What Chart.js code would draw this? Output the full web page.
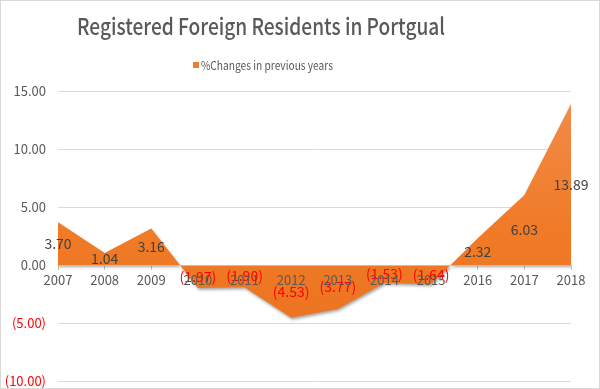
<!DOCTYPE html>
<html>
<head>
<meta charset="utf-8">
<script src="https://cdn.jsdelivr.net/npm/chart.js@4/dist/chart.umd.min.js"></script>
<style>
  html, body { margin: 0; padding: 0; background: #fff; overflow: hidden; }
  #outer { width: 600px; height: 389px; overflow: hidden; position: relative; }
  /* canvas is a bit taller than the window: Chart.js keeps room under the
     y labels that the original does not have */
  #wrap { width: 600px; height: 401px; position: relative; }
</style>
</head>
<body>
<div id="outer"><div id="wrap"><canvas id="chart"></canvas></div></div>
<script>
// data
const years = ['2007','2008','2009','2010','2011','2012','2013','2014','2015','2016','2017','2018'];
const changes = [3.70, 1.04, 3.16, -1.97, -1.90, -4.53, -3.77, -1.53, -1.64, 2.32, 6.03, 13.89];
const seriesName = '%Changes in previous years';
const chartTitle = 'Registered Foreign Residents in Portgual';

const FONT = "'Noto Sans CJK SC', 'Noto Sans', sans-serif";
const GREY = '#595959';
const RED = '#FF0000';
const ORANGE = '#ED7D31';

function fmt(v) {
    return v < 0 ? `(${Math.abs(v).toFixed(2)})` : v.toFixed(2);
}

// squeeze text into a given width (the original font is narrow)
function fitText(c, text, x, y, width) {
    const w = c.measureText(text).width;
    c.save();
    c.translate(x, y);
    c.scale(width / w, 1);
    c.fillText(text, 0, 0);
    c.restore();
}

// white background, border, title and legend (title block is off-centre in the original)
const frame = {
    id: 'frame',
    beforeDraw(chart) {
        const c = chart.ctx;
        c.save();
        c.fillStyle = '#fff';
        c.fillRect(0, 0, chart.width, chart.height);
        c.strokeStyle = '#D9D9D9';
        c.lineWidth = 1;
        c.strokeRect(0.5, 0.5, chart.width - 1, 388);

        c.fillStyle = GREY;
        c.textAlign = 'left';
        c.textBaseline = 'alphabetic';
        c.font = `500 23px ${FONT}`;
        fitText(c, chartTitle, 77, 35, 368);

        c.font = `12px ${FONT}`;
        c.textBaseline = 'middle';
        fitText(c, seriesName, 201, 65, 132);
        c.fillStyle = ORANGE;
        c.fillRect(193, 62, 6, 6);
        c.restore();
    }
};

// soft shadow under the area
const shadow = {
    id: 'shadow',
    beforeDatasetsDraw(chart) {
        const c = chart.ctx;
        c.save();
        c.shadowColor = 'rgba(0,0,0,0.35)';
        c.shadowBlur = 3;
        c.shadowOffsetX = 1;
        c.shadowOffsetY = 2;
    },
    afterDatasetsDraw(chart) {
        chart.ctx.restore();
    }
};

// values drawn in the middle of the area, like Excel's "center" labels
const valueLabels = {
    id: 'valueLabels',
    afterDatasetsDraw(chart) {
        const c = chart.ctx;
        const meta = chart.getDatasetMeta(0);
        const ys = chart.scales.y;
        c.save();
        c.font = `14px ${FONT}`;
        c.textAlign = 'center';
        c.textBaseline = 'middle';
        changes.forEach((v, i) => {
            const x = meta.data[i].x;
            const y = ys.getPixelForValue(v / 2);
            c.fillStyle = v < 0 ? RED : '#404040';
            c.fillText(fmt(v), x, y);
        });
        c.restore();
    }
};

const ctx = document.getElementById('chart').getContext('2d');
const grad = ctx.createLinearGradient(0, 90, 0, 380);
grad.addColorStop(0, '#F28C4C');
grad.addColorStop(0.5, '#F07A25');
grad.addColorStop(1, '#EA7020');

new Chart(ctx, {
    type: 'line',
    data: {
        labels: years,
        datasets: [{
            label: seriesName,
            data: changes,
            fill: 'origin',
            backgroundColor: grad,
            borderWidth: 0,
            borderColor: 'rgba(0,0,0,0)',
            pointRadius: 0,
            tension: 0
        }]
    },
    options: {
        responsive: true, maintainAspectRatio: false, animation: false,
        layout: { padding: { left: 4, right: 29, top: 91, bottom: 0 } },
        plugins: {
            title: { display: false },
            legend: { display: false },
            tooltip: { enabled: false }
        },
        scales: {
            x: {
                position: { y: 0 },
                offset: false,
                grid: { drawOnChartArea: false, drawTicks: true, tickLength: 4, color: '#BFBFBF' },
                border: { color: '#BFBFBF', z: 1 },
                ticks: { z: 1, color: GREY, font: { family: FONT, size: 13 }, padding: 3, maxRotation: 0, autoSkip: false }
            },
            y: {
                min: -10, max: 15,
                grid: { color: '#D9D9D9', drawTicks: false },
                border: { display: false },
                afterFit(scale) { scale.width = 54; },
                ticks: {
                    stepSize: 5, padding: 12,
                    font: { family: FONT, size: 13 },
                    color: (c) => c.tick && c.tick.value < 0 ? RED : GREY,
                    callback: (v) => fmt(v)
                }
            }
        }
    },
    plugins: [frame, shadow, valueLabels]
});
</script>
</body>
</html>
